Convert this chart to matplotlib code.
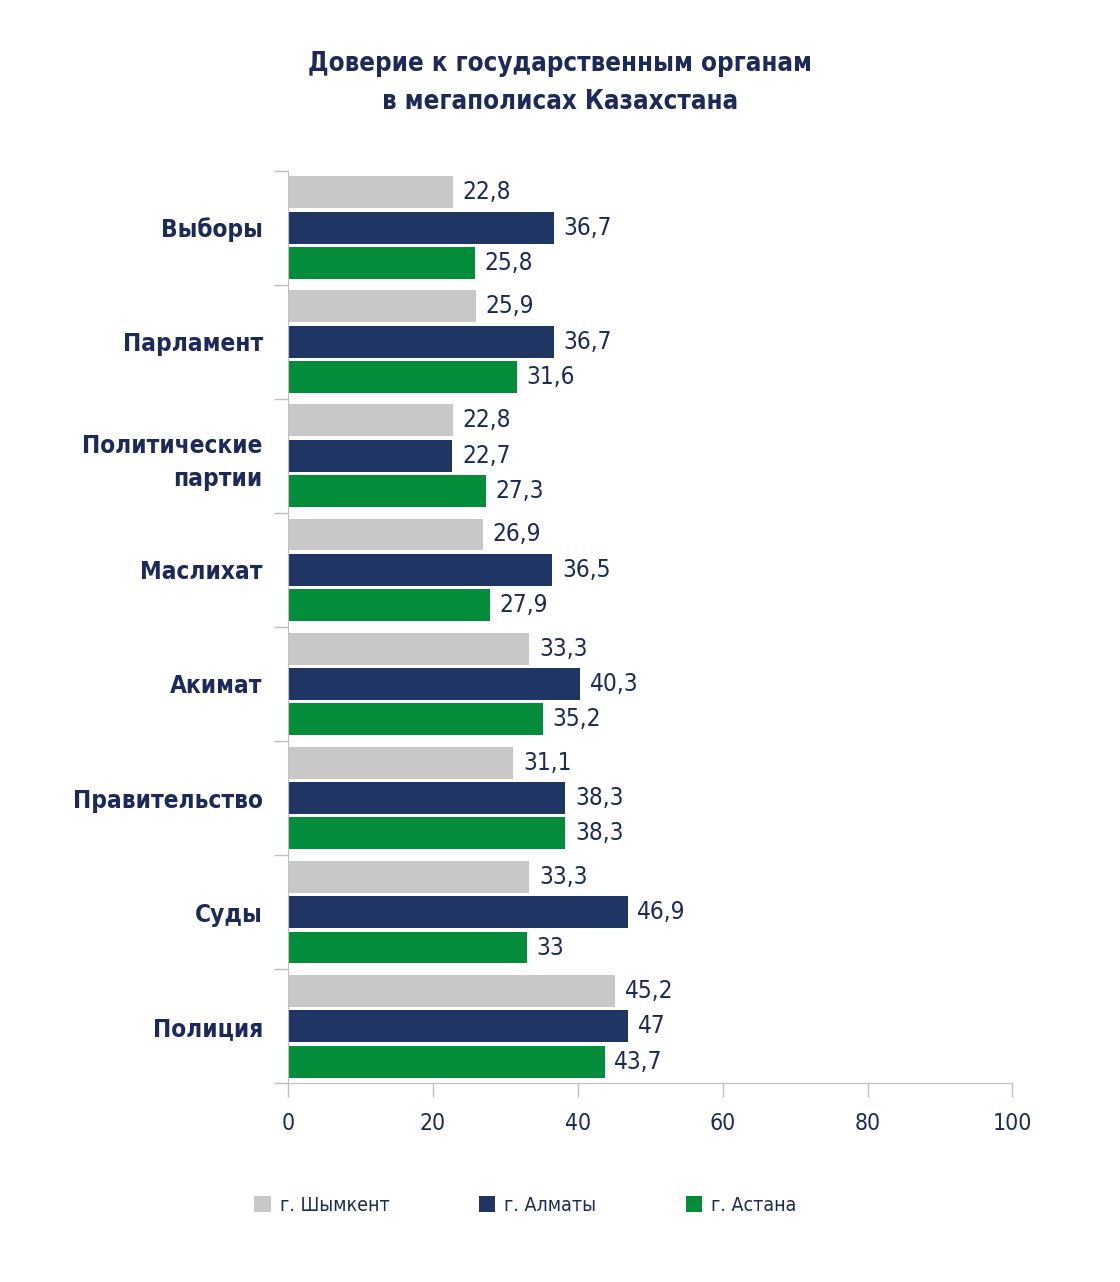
import matplotlib
matplotlib.use('Agg')
import matplotlib.pyplot as plt
from matplotlib.patches import Patch
import numpy as np

plt.rcParams['font.family'] = ['DejaVu Sans']
plt.rcParams['font.stretch'] = 'condensed'

categories = ['Выборы', 'Парламент', 'Политические\nпартии', 'Маслихат',
              'Акимат', 'Правительство', 'Суды', 'Полиция']
cities = ['г. Шымкент', 'г. Алматы', 'г. Астана']
shymkent = [22.8, 25.9, 22.8, 26.9, 33.3, 31.1, 33.3, 45.2]
almaty = [36.7, 36.7, 22.7, 36.5, 40.3, 38.3, 46.9, 47]
astana = [25.8, 31.6, 27.3, 27.9, 35.2, 38.3, 33, 43.7]
xticks = [0, 20, 40, 60, 80, 100]

colors = ['#C8C8C8', '#1F3564', '#038C3A']
text_color = '#1B2A5A'
axis_color = '#BFBFBF'

fig = plt.figure(figsize=(11.2, 12.82), dpi=100)
ax = fig.add_axes([0.257, 0.155, 0.647, 0.712])

y = np.arange(len(categories))
offsets = [-0.31, 0, 0.31]
for series, off, col in zip([shymkent, almaty, astana], offsets, colors):
    bars = ax.barh(y + off, series, height=0.28, color=col)
    labels = [('%g' % v).replace('.', ',') for v in series]
    ax.bar_label(bars, labels=labels, padding=7, fontsize=17.5, color=text_color)

ax.set_xlim(0, 100)
ax.set_ylim(len(categories) - 0.5, -0.5)
ax.set_xticks(xticks)
ax.set_xticklabels([str(t) for t in xticks])
ax.tick_params(axis='x', length=10, width=1, color=axis_color, pad=11,
               labelsize=16.5, labelcolor=text_color)

ax.set_yticks(np.arange(len(categories) + 1) - 0.5)
ax.set_yticklabels([])
ax.set_yticks(y, minor=True)
ax.set_yticklabels(categories, minor=True, fontsize=17.5, fontweight='bold',
                   color=text_color, linespacing=1.45)
ax.tick_params(axis='y', which='major', length=10, width=1, color=axis_color)
ax.tick_params(axis='y', which='minor', length=0, pad=18)
for lbl in ax.get_yticklabels(minor=True):
    lbl.set_horizontalalignment('right')

for s in ['top', 'right']:
    ax.spines[s].set_visible(False)
for s in ['left', 'bottom']:
    ax.spines[s].set_color(axis_color)

fig.text(0.5, 0.935, 'Доверие к государственным органам\nв мегаполисах Казахстана',
         ha='center', va='center', fontsize=18.5, fontweight='bold',
         color=text_color, linespacing=1.6)

handles = [Patch(facecolor=c, edgecolor='none') for c in colors]
fig.legend(handles, cities, loc='center', bbox_to_anchor=(0.469, 0.06), ncol=3,
           frameon=False, fontsize=14, handlelength=0.85, handleheight=0.85,
           handletextpad=0.45, columnspacing=4.6, labelcolor=text_color)

fig.savefig('out.png', dpi=100)
